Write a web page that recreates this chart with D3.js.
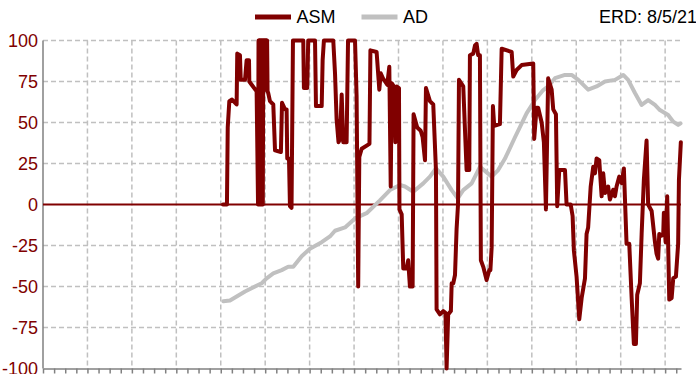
<!DOCTYPE html>
<html><head><meta charset="utf-8">
<script src="https://cdn.jsdelivr.net/npm/d3@7"></script>
<style>body{margin:0;background:#fff}svg{display:block}</style>
</head><body><svg id="c" width="696" height="374"></svg>
<script>
// ---- data (x = day index, y = value) ----
const asmDays = [113.4,115.9,116.4,117.4,119.1,122.0,122.4,124.1,124.6,127.3,128.3,129.8,130.0,131.5,134.6,135.5,135.8,136.1,136.4,136.7,137.0,137.3,137.6,137.9,138.2,138.5,138.8,139.1,139.4,139.7,140.0,140.3,140.6,140.9,141.2,141.5,141.9,143.0,145.1,146.2,149.9,150.6,152.5,153.5,153.9,155.0,155.6,156.6,157.5,164.0,164.4,166.5,167.1,171.4,172.0,175.6,176.2,177.0,182.9,184.0,185.0,186.2,187.1,188.2,189.2,191.3,192.2,196.6,197.6,198.6,199.3,200.8,205.7,206.3,210.2,211.9,212.8,214.2,216.9,218.2,219.1,219.7,221.1,222.0,222.8,224.3,224.6,226.0,227.0,229.1,230.1,231.2,232.9,233.5,235.8,238.0,239.2,240.7,241.3,243.8,245.9,247.6,248.0,250.1,252.2,253.6,254.3,255.3,257.0,257.5,258.5,259.6,260.6,261.5,262.1,264.8,266.9,268.6,269.0,271.1,272.2,273.2,274.2,275.3,275.9,277.4,279.5,281.2,281.9,282.7,283.5,284.3,287.9,289.0,295.3,296.3,298.4,301.6,308.9,309.5,311.0,312.0,314.2,315.6,316.9,318.3,320.5,321.5,323.2,324.0,325.3,328.9,329.9,332.5,333.7,334.5,336.2,337.9,339.4,341.5,342.5,343.5,345.1,346.7,347.8,348.8,350.5,350.9,352.0,353.0,354.1,356.1,357.2,359.3,360.4,361.4,363.1,364.6,366.0,367.7,369.4,370.9,372.3,373.6,374.4,376.1,377.2,378.6,380.3,381.3,383.5,385.6,386.6,387.6,388.3,389.8,390.8,391.2,392.3,393.3,394.6,396.1,397.1,398.8,400.2,400.7,401.9];
const asmValues = [0,0,47,63,64,61,92,91,76,76,88,88,75,73,69,0,100,0,100,0,100,0,100,0,100,0,100,70,100,70,100,70,100,70,100,69,68,63,61,33,32,62,58,58,28,28,-1,-2,100,100,71,71,100,100,60,60,88,100,100,80,52,38,40,67,38,38,100,100,66,-50,29,34,37,94,93,70,80,77,73,84,11,74,72,38,72,71,-3,-6,-39,-39,-34,-50,-50,55,47,45,41,27,71,63,61,21,-64,-67,-65,-66,-100,-67,-65,-48,-48,-43,-15,0,76,72,21,21,91,92,97,98,91,91,-34,-38,-46,-40,-40,-26,60,48,49,95,93,78,82,85,86,40,59,59,50,38,-3,77,70,58,55,-1,21,21,0,0,-7,-28,-44,-70,-57,-45,-18,-14,11,23,19,28,27,21,5,19,7,11,3,9,5,11,17,13,22,-24,-24,-57,-85,-85,-55,-48,-18,15,39,0,-4,-23,-30,-33,-18,-19,-18,-5,-23,5,-58,-57,-45,-44,-24,15,38];
const adDays = [113.6,117.8,127.3,137.8,140.9,145.1,150.4,154.5,157.7,163.0,168.2,175.6,180.8,184.0,190.3,196.6,203.9,212.3,218.6,224.9,228.1,233.3,239.6,243.8,247.6,252.2,257.5,261.3,264.8,270.1,275.3,282.7,286.8,291.1,297.4,304.7,310.0,315.2,318.3,322.6,328.9,333.1,337.3,343.5,348.8,354.1,360.4,365.6,368.7,373.0,377.2,381.3,385.6,388.7,393.9,397.1,400.2,401.7];
const adValues = [-59,-58.5,-53,-48,-45,-42,-40,-38,-38,-31.5,-27,-23,-19.5,-16,-14,-8.5,-5.3,2.5,8.8,11.9,11,7.8,12.9,17,22,17,8.8,3.8,8.8,12.9,23,17,21,28,41,55.6,63.7,69.8,72,77,79,79,76,70,72,75,76,79,76,68,60.7,63.7,60.7,57.6,54.6,50.5,48.5,49.5];
const yTickValues = [100, 75, 50, 25, 0, -25, -50, -75, -100];
const seriesNames = ["ASM", "AD"];
const seriesColors = ["#800000", "#c0c0c0"];
const erdLabel = "ERD: 8/5/21";
const xDomainDays = [0, 402];
const gridStepDays = 28, tickStepDays = 7;

// ---- layout ----
const svg = d3.select("#c");
const FONT = "'Liberation Sans', Arial, sans-serif";
const x = d3.scaleLinear().domain(xDomainDays).range([43, 681]);
const y = d3.scaleLinear().domain([-100, 100]).range([368.5, 40.5]);

// horizontal dashed grid
svg.append("g").selectAll("line")
  .data(yTickValues.filter(v => v !== 0 && v !== -100))
  .join("line")
  .attr("x1", x(xDomainDays[0])).attr("x2", x(xDomainDays[1]))
  .attr("y1", d => y(d)).attr("y2", d => y(d))
  .attr("stroke", "#c0c0c0").attr("stroke-width", 1.5).attr("stroke-dasharray", "5,3");

// vertical dashed grid
svg.append("g").selectAll("line")
  .data(d3.range(gridStepDays, xDomainDays[1], gridStepDays))
  .join("line")
  .attr("x1", d => x(d)).attr("x2", d => x(d))
  .attr("y1", y(100)).attr("y2", y(-100))
  .attr("stroke", "#c0c0c0").attr("stroke-width", 1.5).attr("stroke-dasharray", "5,3");

// bottom axis with weekly ticks
const xAxis = d3.axisBottom(x)
  .tickValues(d3.range(xDomainDays[0], xDomainDays[1] + 1, tickStepDays))
  .tickSize(5).tickSizeOuter(0).tickFormat("");
const gx = svg.append("g").attr("transform", `translate(0,${y(-100)})`).call(xAxis);
gx.select(".domain").attr("stroke", "#808080").attr("stroke-width", 1.5);
gx.selectAll(".tick line").attr("stroke", "#808080").attr("stroke-width", 1.5);

// left axis line
svg.append("line")
  .attr("x1", x(0)).attr("x2", x(0)).attr("y1", y(100)).attr("y2", y(-100))
  .attr("stroke", "#808080").attr("stroke-width", 1.5);

// y labels
svg.append("g").selectAll("text").data(yTickValues).join("text")
  .attr("x", 38).attr("y", d => y(d)).attr("dy", "0.36em")
  .attr("text-anchor", "end").attr("fill", "#800000")
  .attr("font-family", FONT).attr("font-size", 18)
  .text(d => d);

// zero line
svg.append("line")
  .attr("x1", x(xDomainDays[0])).attr("x2", x(xDomainDays[1]))
  .attr("y1", y(0)).attr("y2", y(0))
  .attr("stroke", "#800000").attr("stroke-width", 2);

const line = d3.line().x(d => x(d[0])).y(d => y(d[1]));
const adPts = adDays.map((d, i) => [d, adValues[i]]);
const asmPts = asmDays.map((d, i) => [d, asmValues[i]]);

svg.append("path").datum(adPts).attr("d", line)
  .attr("fill", "none").attr("stroke", seriesColors[1]).attr("stroke-width", 4)
  .attr("stroke-linejoin", "round").attr("stroke-linecap", "round");
svg.append("path").datum(asmPts).attr("d", line)
  .attr("fill", "none").attr("stroke", seriesColors[0]).attr("stroke-width", 4)
  .attr("stroke-linejoin", "round").attr("stroke-linecap", "round");

// legend
const legendX = [255, 361.5];
seriesNames.forEach((name, i) => {
  const g = svg.append("g").attr("transform", `translate(${legendX[i]},17)`);
  g.append("line").attr("x1", 0).attr("x2", 36).attr("y1", 0).attr("y2", 0)
    .attr("stroke", seriesColors[i]).attr("stroke-width", 5);
  g.append("text").attr("x", 41.5).attr("y", 0).attr("dy", "0.36em")
    .attr("font-family", FONT).attr("font-size", 18).attr("fill", "#000").text(name);
});
svg.append("text").attr("x", 599).attr("y", 17).attr("dy", "0.36em")
  .attr("font-family", FONT).attr("font-size", 18).attr("fill", "#000").text(erdLabel);
</script></body></html>
